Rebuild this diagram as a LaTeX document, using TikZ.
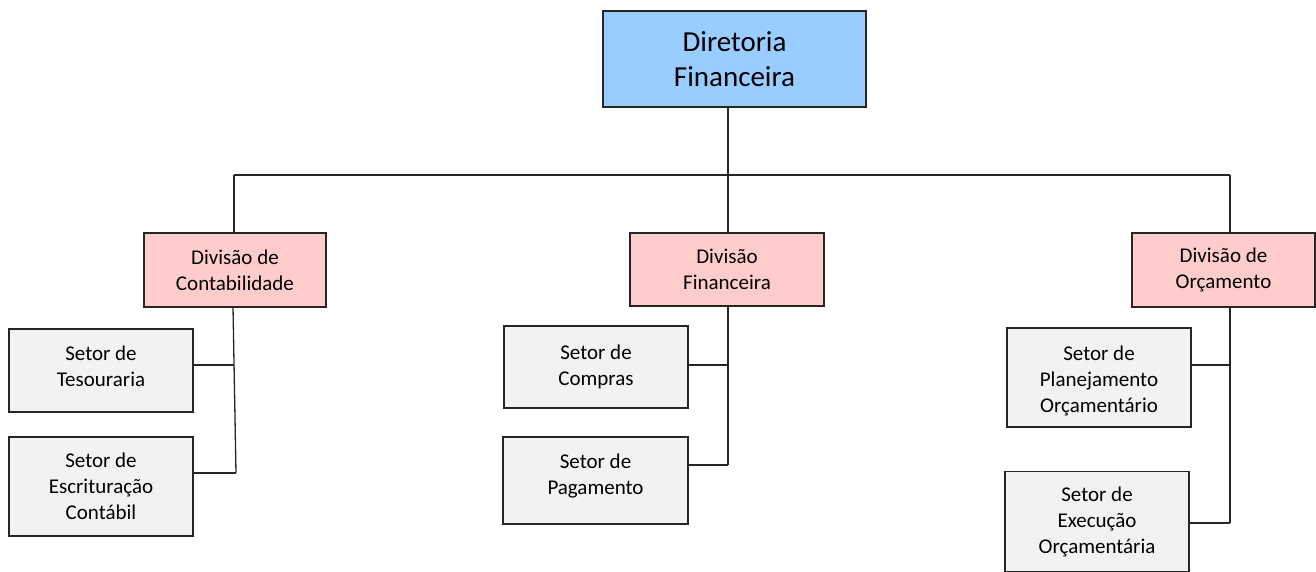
\documentclass[tikz,border=0pt]{standalone}
\usepackage{fontspec}
\setmainfont{Carlito}
\definecolor{topblue}{HTML}{99CCFF}
\definecolor{divpink}{HTML}{FFCCCC}
\definecolor{secgray}{HTML}{F2F2F2}
\definecolor{edge}{HTML}{262626}
\begin{document}
\begin{tikzpicture}[x=1pt,y=-1pt,
  box/.style={draw=edge,line width=1.3pt,inner sep=0pt,align=center,text=black},
  topbox/.style={box,fill=topblue,font=\fontsize{29}{35}\selectfont},
  divbox/.style={box,fill=divpink,font=\fontsize{21}{26}\selectfont},
  secbox/.style={box,fill=secgray,font=\fontsize{21}{26}\selectfont},
  sectext/.style={inner sep=0pt,align=center,text=black,font=\fontsize{21}{26}\selectfont},
  link/.style={draw=edge,line width=1.3pt}]
\useasboundingbox (0,0) rectangle (1316,572);
\node[topbox,minimum width=263pt,minimum height=96pt] (top) at (734.5,59) {Diretoria\\Financeira};
\node[divbox,minimum width=182pt,minimum height=74pt] (divc) at (235,270) {Divisão de\\Contabilidade};
\node[divbox,minimum width=194pt,minimum height=73pt] (divf) at (727,269.5) {Divisão\\Financeira};
\node[divbox,minimum width=183pt,minimum height=74pt] (divo) at (1223.5,270) {Divisão de\\Orçamento};
\node[secbox,minimum width=184pt,minimum height=83pt] (tes) at (101,370.5) {};
\node[sectext] (testx) at (101,366.5) {Setor de\\Tesouraria};
\node[secbox,minimum width=184pt,minimum height=99pt] (esc) at (101,486.5) {Setor de\\Escrituração\\Contábil};
\node[secbox,minimum width=184pt,minimum height=82pt] (com) at (596,367) {Setor de\\Compras};
\node[secbox,minimum width=185pt,minimum height=87pt] (pag) at (595.5,480.5) {};
\node[sectext] (pagtx) at (595.5,476.5) {Setor de\\Pagamento};
\node[secbox,minimum width=184pt,minimum height=99pt] (pla) at (1099,377.5) {};
\node[sectext] (platx) at (1099,380.5) {Setor de\\Planejamento\\Orçamentário};
\node[secbox,minimum width=184pt,minimum height=100pt] (exe) at (1097,521.5) {Setor de\\Execução\\Orçamentária};
% bus
\coordinate (busL) at (234,175);
\coordinate (busM) at (728,175);
\coordinate (busR) at (1230,175);
\draw[link] (top.south -| busM) -- (divf.north -| busM);
\draw[link] (busL) -- (busR);
\draw[link] (busL) -- (busL |- divc.north);
\draw[link] (busR) -- (busR |- divo.north);
% contabilidade
\coordinate (cT) at (233,307);
\coordinate (cM) at (234,365);
\coordinate (cB) at (236,473);
\draw[link] (cT) -- (cB);
\draw[link] (tes.east |- cM) -- (cM);
\draw[link] (esc.east |- cB) -- (cB);
% financeira
\coordinate (fM) at (728,365);
\coordinate (fB) at (728,465);
\draw[link] (divf.south -| fB) -- (fB);
\draw[link] (com.east |- fM) -- (fM);
\draw[link] (pag.east |- fB) -- (fB);
% orcamento
\coordinate (oM) at (1230,365);
\coordinate (oB) at (1230,523);
\draw[link] (divo.south -| oB) -- (oB);
\draw[link] (pla.east |- oM) -- (oM);
\draw[link] (exe.east |- oB) -- (oB);
\end{tikzpicture}
\end{document}
